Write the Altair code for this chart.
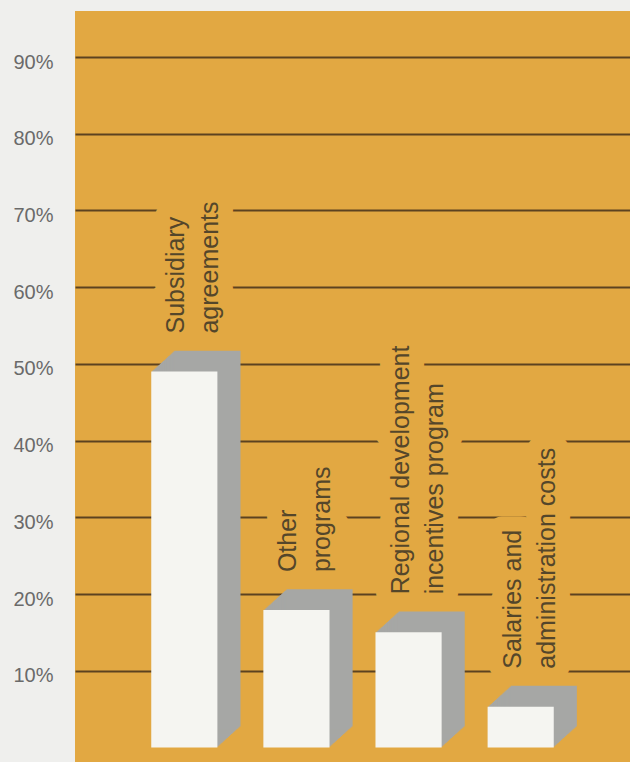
import altair as alt
import pandas as pd

# ---- data ----
categories = [
    "Subsidiary agreements",
    "Other programs",
    "Regional development incentives program",
    "Salaries and administration costs",
]
label_text = [
    "Subsidiary\nagreements",
    "Other\nprograms",
    "Regional development\nincentives program",
    "Salaries and\nadministration costs",
]
values = [49.0, 17.9, 15.0, 5.3]
tick_values = [10, 20, 30, 40, 50, 60, 70, 80, 90]

df = pd.DataFrame({"cat": categories, "label": label_text, "value": values})

ORANGE = "#e2a842"
GREY = "#a6a7a5"
WHITE = "#f5f5f1"
TEXT = "#54462a"
GRID = "#5c4220"
FONT = "Liberation Sans"

xscale = alt.Scale(domain=categories, paddingInner=0.41, paddingOuter=0.68)
yscale = alt.Scale(domain=[-1.9, 96], nice=False, zero=False)

X = alt.X("cat:N", scale=xscale, axis=None, sort=categories)
Y = alt.Y(
    "value:Q",
    scale=yscale,
    title=None,
    axis=alt.Axis(
        values=tick_values,
        grid=True,
        gridColor=GRID,
        gridWidth=1.8,
        domain=False,
        ticks=False,
        labelExpr="datum.value + '%'",
        labelFont=FONT,
        labelFontSize=20,
        labelColor="#6a6a6a",
        labelPadding=22,
        labelOffset=5,
    ),
)

base = alt.Chart(df)

text_props = dict(
    angle=270,
    align="left",
    baseline="middle",
    font=FONT,
    fontSize=25,
    lineHeight=34,
    lineBreak="\n",
    xOffset=-8,
    yOffset=-38,
)

halo = base.mark_text(
    color=ORANGE, stroke=ORANGE, strokeWidth=30, strokeJoin="round", **text_props
).encode(x=X, y=Y, text="label:N")

ext = []
for k in range(1, 23):
    ext.append(
        base.mark_bar(
            color=GREY,
            xOffset=k * 1.05,
            x2Offset=k * 1.05,
            yOffset=-k * 0.95,
            y2Offset=-k * 0.95,
        ).encode(x=X, y=Y, y2=alt.datum(0))
    )

front = base.mark_bar(color=WHITE).encode(x=X, y=Y, y2=alt.datum(0))

labels = base.mark_text(color=TEXT, **text_props).encode(x=X, y=Y, text="label:N")

chart = (
    alt.layer(halo, *ext, front, labels)
    .properties(
        width=555,
        height=751,
        padding={"left": 75, "top": 11, "right": 0, "bottom": 0},
        autosize=alt.AutoSizeParams(type="none"),
    )
    .configure(background="#efefed")
    .configure_view(fill=ORANGE, stroke=None)
)

chart.save("out.html", embed_options={"renderer": "svg", "actions": False})
